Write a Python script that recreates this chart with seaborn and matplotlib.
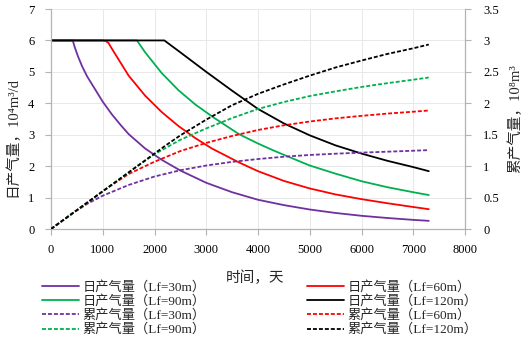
import numpy as np
import pandas as pd
import matplotlib
matplotlib.use("Agg")
import matplotlib.pyplot as plt
import seaborn as sns
from matplotlib.font_manager import FontProperties
from matplotlib.ticker import FuncFormatter, MultipleLocator

# ---------------- data ----------------
# daily gas rate, 10^4 m3/d (left axis)
t_d30 = [0, 420, 460, 520, 600, 700, 850, 1000, 1175, 1350, 1500, 1820, 2140, 2500, 3000, 3500, 4000, 4500, 5000, 5500, 6000, 6500, 7000, 7300]
q_d30 = [6, 6, 5.78, 5.5, 5.18, 4.85, 4.45, 4.05, 3.65, 3.3, 3.02, 2.56, 2.2, 1.86, 1.47, 1.17, 0.93, 0.76, 0.62, 0.51, 0.42, 0.35, 0.29, 0.26]

t_d60 = [0, 1000, 1060, 1110, 1175, 1500, 1820, 2140, 2460, 2790, 3110, 3630, 4000, 4500, 5000, 5500, 6000, 6500, 7000, 7300]
q_d60 = [6, 6, 5.98, 5.92, 5.74, 4.88, 4.24, 3.72, 3.28, 2.89, 2.56, 2.12, 1.84, 1.53, 1.29, 1.1, 0.95, 0.82, 0.7, 0.63]

t_d90 = [0, 1660, 1820, 2140, 2460, 2790, 3140, 3630, 4000, 4270, 4500, 5000, 5500, 6000, 6500, 7000, 7300]
q_d90 = [6, 6, 5.62, 4.96, 4.42, 3.96, 3.55, 3.02, 2.72, 2.52, 2.36, 2.02, 1.76, 1.52, 1.33, 1.17, 1.08]

t_d120 = [0, 2190, 2500, 3000, 3500, 4000, 4500, 5000, 5500, 6000, 6500, 7000, 7300]
q_d120 = [6, 6, 5.62, 5.0, 4.4, 3.82, 3.36, 2.98, 2.66, 2.4, 2.17, 1.97, 1.84]

# cumulative gas, 10^8 m3 (right axis)
t_c30 = [0, 420, 700, 1000, 1500, 2000, 2500, 3000, 3500, 4000, 4500, 5000, 5500, 6000, 6500, 7000, 7300]
g_c30 = [0, 0.252, 0.40, 0.53, 0.70, 0.835, 0.935, 1.01, 1.068, 1.113, 1.15, 1.178, 1.198, 1.215, 1.23, 1.245, 1.255]

t_c60 = [0, 1000, 1080, 1500, 2000, 2500, 3000, 3500, 4000, 4500, 5000, 5500, 6000, 6500, 7000, 7300]
g_c60 = [0, 0.60, 0.648, 0.875, 1.07, 1.24, 1.37, 1.48, 1.575, 1.65, 1.71, 1.76, 1.80, 1.836, 1.866, 1.885]

t_c90 = [0, 1660, 2000, 2500, 3000, 3500, 4000, 4500, 5000, 5500, 6000, 6500, 7000, 7300]
g_c90 = [0, 0.996, 1.19, 1.42, 1.60, 1.765, 1.91, 2.02, 2.115, 2.19, 2.26, 2.32, 2.375, 2.41]

t_c120 = [0, 2190, 2500, 3000, 3500, 4000, 4500, 5000, 5500, 6000, 6500, 7000, 7300]
g_c120 = [0, 1.314, 1.49, 1.74, 1.97, 2.15, 2.30, 2.44, 2.57, 2.68, 2.785, 2.875, 2.935]

labels_daily = ["日产气量（Lf=30m）", "日产气量（Lf=60m）", "日产气量（Lf=90m）", "日产气量（Lf=120m）"]
labels_cum = ["累产气量（Lf=30m）", "累产气量（Lf=60m）", "累产气量（Lf=90m）", "累产气量（Lf=120m）"]
colors = ["#7030A0", "#FF0000", "#00B050", "#000000"]

x_label = "时间，天"
y_label_left = "日产气量，10⁴m³/d"
y_label_right = "累产气量，10⁸m³"

# ---------------- style ----------------
sns.set_style("white")
fam = ["Liberation Serif", "Noto Sans CJK SC", "DejaVu Sans"]
plt.rcParams["font.family"] = fam
plt.rcParams["axes.unicode_minus"] = False

W, H = 527, 342
fig = plt.figure(figsize=(W / 100, H / 100), dpi=100)
ax = fig.add_axes([51 / W, 1 - 229 / H, 414 / W, 220 / H])
ax2 = ax.twinx()

lw = 1.3
daily = [(t_d30, q_d30), (t_d60, q_d60), (t_d90, q_d90), (t_d120, q_d120)]
cum = [(t_c30, g_c30), (t_c60, g_c60), (t_c90, g_c90), (t_c120, g_c120)]

for (t, q), lab, c in zip(daily, labels_daily, colors):
    df = pd.DataFrame({"t": t, "v": q})
    sns.lineplot(data=df, x="t", y="v", ax=ax, color=c, lw=lw, label=lab,
                 estimator=None, sort=False, legend=False)
for (t, g), lab, c in zip(cum, labels_cum, colors):
    df = pd.DataFrame({"t": t, "v": g})
    sns.lineplot(data=df, x="t", y="v", ax=ax2, color=c, lw=lw, label=lab,
                 linestyle=(0, (2.2, 1.1)), estimator=None, sort=False, legend=False)

grid_c = "#E8E8E8"
axis_c = "#B3B3B3"
ax.set_xlim(0, 8000)
ax.set_ylim(0, 7)
ax2.set_ylim(0, 3.5)
ax.xaxis.set_major_locator(MultipleLocator(1000))
ax.yaxis.set_major_locator(MultipleLocator(1))
ax2.yaxis.set_major_locator(MultipleLocator(0.5))
ax2.yaxis.set_major_formatter(FuncFormatter(lambda v, p: f"{v:g}"))
ax.grid(True, color=grid_c, lw=0.7)
ax.set_axisbelow(True)

for a in (ax, ax2):
    for s in a.spines.values():
        s.set_visible(False)
ax.spines["left"].set_visible(True)
ax.spines["bottom"].set_visible(True)
ax2.spines["right"].set_visible(True)
for s in (ax.spines["left"], ax.spines["bottom"], ax2.spines["right"]):
    s.set_color(axis_c)
    s.set_linewidth(0.9)

tick_fs = 9
ax.tick_params(axis="both", direction="out", length=4, width=0.8, color=axis_c,
               labelsize=tick_fs, labelcolor="black")
ax.tick_params(axis="y", pad=8, left=True)
ax.tick_params(axis="x", pad=7, bottom=True)
ax2.tick_params(axis="y", direction="out", length=4, width=0.8, color=axis_c,
                labelsize=tick_fs, labelcolor="black", pad=9, right=True)

lab_fs = 10.5
ax.set_xlabel(x_label, fontsize=lab_fs)
ax.xaxis.set_label_coords(0.493, -0.19)
ax.set_ylabel(y_label_left, fontsize=lab_fs)
ax.yaxis.set_label_coords(-0.075, 0.42)
ax2.set_ylabel(y_label_right, fontsize=lab_fs)
ax2.yaxis.set_label_coords(1.104, 0.50)

# ---------------- legends ----------------
h1 = ax.get_lines()
h2 = ax2.get_lines()
prop = FontProperties(family=fam, size=9.5)
left_h = [h1[0], h1[2], h2[0], h2[2]]
right_h = [h1[1], h1[3], h2[1], h2[3]]
left_l = [labels_daily[0], labels_daily[2], labels_cum[0], labels_cum[2]]
right_l = [labels_daily[1], labels_daily[3], labels_cum[1], labels_cum[3]]
common = dict(loc="upper left", frameon=False, prop=prop, borderpad=0, borderaxespad=0,
              handlelength=2.8, handletextpad=0.25, labelspacing=0.1)
fig.legend(left_h, left_l, bbox_to_anchor=(42 / W, 1 - 281 / H), **common)
fig.legend(right_h, right_l, bbox_to_anchor=(307 / W, 1 - 281 / H), **common)

fig.savefig("out.png", dpi=100)
